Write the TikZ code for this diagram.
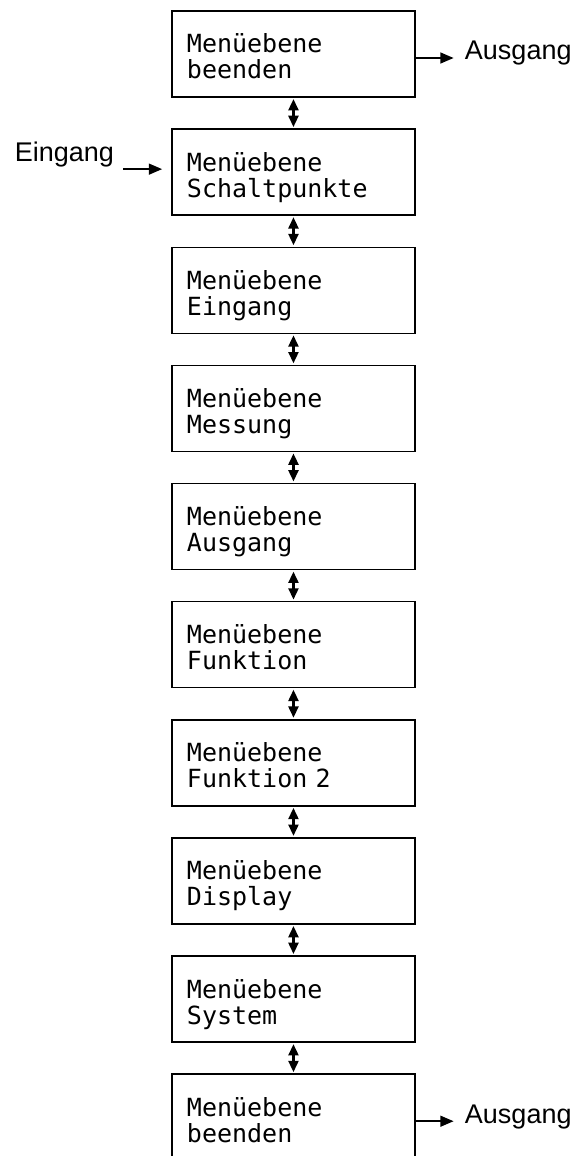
\documentclass[tikz,border=0pt]{standalone}
\usepackage{fontspec}
\setmonofont{DejaVu Sans Mono}
\newfontfamily\labelfont{Liberation Sans}
\usetikzlibrary{arrows.meta}
\tikzset{
  menubox/.style={draw, line width=1.1pt, rectangle,
    minimum width=182.25pt, minimum height=64.5pt,
    text width=159.75pt, inner xsep=11.25pt, inner ysep=0pt,
    align=left, text height=6pt, text depth=7.5pt,
    font=\ttfamily\fontsize{18.75pt}{19.5pt}\selectfont},
  link/.style={line width=1.7pt,
    {Triangle[length=8.5pt,width=7.5pt]}-{Triangle[length=8.5pt,width=7.5pt]},
    shorten <=1pt, shorten >=1pt},
  flow/.style={line width=1.7pt, -{Triangle[length=10pt,width=8pt]}},
  sidelabel/.style={inner sep=0pt,
    font=\labelfont\fontsize{20.25pt}{24pt}\selectfont}
}
\begin{document}
\begin{tikzpicture}[x=1pt,y=1pt]
  \useasboundingbox (0,0) rectangle (431.25,-867);

  % menu levels
  \foreach \t [count=\i] in {Menüebene\\beenden, Menüebene\\Schaltpunkte,
      Menüebene\\Eingang, Menüebene\\Messung, Menüebene\\Ausgang,
      Menüebene\\Funktion, Menüebene\\Funktion 2, Menüebene\\Display,
      Menüebene\\System, Menüebene\\beenden} {
    \node[menubox] (m\i) at (220.1, -40.5 - 88.6*\i + 88.6) {\t};
  }

  \foreach \i [evaluate=\i as \j using int(\i+1)] in {1,...,9} {
    \draw[link] (m\i.south) -- (m\j.north);
  }

  % exits
  \coordinate (a1) at ([xshift=28.5pt,yshift=-3pt]m1.east);
  \draw[flow] (m1.east |- a1) -- (a1);
  \node[sidelabel, anchor=base west] (aus1) at ([xshift=8.25pt,yshift=-1.5pt]a1) {Ausgang};

  \coordinate (a10) at ([xshift=28.5pt,yshift=-3pt]m10.east);
  \draw[flow] (m10.east |- a10) -- (a10);
  \node[sidelabel, anchor=base west] (aus10) at ([xshift=8.25pt,yshift=-1.5pt]a10) {Ausgang};

  % entry
  \coordinate (e2) at ([xshift=-36pt,yshift=2.25pt]m2.west);
  \draw[flow] (e2) -- (m2.west |- e2) [shorten >=6.75pt];
  \node[sidelabel, anchor=base east] (ein) at ([xshift=-6.75pt,yshift=5.7pt]e2) {Eingang};
\end{tikzpicture}
\end{document}
